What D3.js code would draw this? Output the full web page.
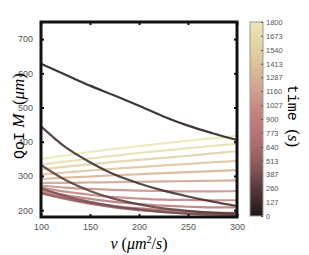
<!DOCTYPE html>
<html>
<head>
<meta charset="utf-8">
<script src="https://cdn.jsdelivr.net/npm/d3@7"></script>
<style>
  body { margin: 0; background: #fff; }
  svg { display: block; }
  .tick text { font-family: "Liberation Sans", Arial, sans-serif; fill: #555; }
</style>
</head>
<body>
<div class="canvas"></div>
<script>
// data
const nu = [100, 125, 150, 175, 200, 225, 250, 275, 300];
const times = [0, 127, 260, 387, 513, 640, 773, 900, 1027, 1160, 1287, 1413, 1540, 1673, 1800];
const qoi = [
  [628, 596, 564, 535, 505, 474, 447, 425, 405],
  [445, 384, 340, 304, 278, 257, 240, 225, 212],
  [332, 288, 256, 233, 217, 205, 198, 193, 190],
  [264, 241, 224, 211, 202, 195, 190, 187, 185],
  [250, 233, 219, 208, 200, 194, 190, 188, 187],
  [252, 236, 222, 212, 205, 200, 196, 193, 192],
  [258, 244, 233, 224, 218, 213, 210, 208, 208],
  [266, 254, 245, 238, 234, 231, 230, 229, 229],
  [272, 266, 262, 259, 257, 256, 255, 255, 256],
  [280, 280, 281, 282, 283, 284, 285, 286, 287],
  [291, 295, 298, 302, 305, 308, 311, 314, 317],
  [304, 310, 316, 321, 326, 331, 335, 340, 344],
  [319, 327, 334, 341, 347, 353, 359, 366, 372],
  [333, 342, 351, 359, 367, 374, 381, 388, 394],
  [349, 360, 370, 379, 387, 395, 403, 410, 417]
];
const xTicks = [100, 150, 200, 250, 300];
const yTicks = [200, 300, 400, 500, 600, 700];
const cbarTicks = [0, 127, 260, 387, 513, 640, 773, 900, 1027, 1160, 1287, 1413, 1540, 1673, 1800];
const cmapStops = [0, 127, 260, 387, 513, 640, 773, 900, 1027, 1160, 1287, 1413, 1540, 1673, 1800];
const cmapColors = ["#201414", "#3c2828", "#583a3a", "#784d4d", "#935e5e", "#a96a6a", "#b87474", "#c27c7c",
  "#c88c84", "#cfa08c", "#d6b292", "#dcc29a", "#e1d0a2", "#e6dcaa", "#ebe6b4"];

// dimensions
const w = 309, h = 255;
const margin = { top: 22, left: 41 };
const pw = 196, ph = 195;

const svg = d3.select(".canvas").append("svg").attr("width", w).attr("height", h);

const x = d3.scaleLinear().domain([100, 300]).range([margin.left, margin.left + pw]);
const y = d3.scaleLinear().domain([180, 750]).range([margin.top + ph, margin.top]);
const color = d3.scaleLinear().domain(cmapStops).range(cmapColors);

// lines (latest time drawn first so early times sit on top)
const line = d3.line().x((d, i) => x(nu[i])).y(d => y(d)).curve(d3.curveMonotoneX);
const plot = svg.append("g");
plot.selectAll("path")
  .data(qoi.map((v, i) => ({ v, t: times[i] })).reverse())
  .enter()
  .append("path")
  .attr("d", d => line(d.v))
  .attr("fill", "none")
  .attr("stroke", d => color(d.t))
  .attr("stroke-opacity", 0.85)
  .attr("stroke-width", 2.2);

// axes
svg.append("g")
  .attr("transform", `translate(0, ${margin.top + ph})`)
  .call(d3.axisBottom(x).tickValues(xTicks).tickSize(-3).tickPadding(7));
svg.append("g")
  .attr("transform", `translate(${margin.left}, 0)`)
  .call(d3.axisLeft(y).tickValues(yTicks).tickSize(-3).tickPadding(8));
svg.append("g")
  .attr("transform", `translate(0, ${margin.top})`)
  .call(d3.axisTop(x).tickValues(xTicks).tickSize(-3).tickFormat(""));
svg.append("g")
  .attr("transform", `translate(${margin.left + pw}, 0)`)
  .call(d3.axisRight(y).tickValues(yTicks).tickSize(-3).tickFormat(""));
svg.selectAll(".domain").remove();
svg.selectAll(".tick line").attr("stroke", "#111").attr("stroke-width", 2);
svg.selectAll(".tick text").attr("font-size", 9);

// frame
svg.append("rect")
  .attr("x", margin.left).attr("y", margin.top)
  .attr("width", pw).attr("height", ph)
  .attr("fill", "none").attr("stroke", "#111").attr("stroke-width", 3);

// axis labels
svg.append("text")
  .attr("x", margin.left + pw / 2).attr("y", 249)
  .attr("text-anchor", "middle")
  .attr("font-family", "Liberation Serif, serif")
  .attr("font-size", 16)
  .html('<tspan font-style="italic">ν</tspan> (<tspan font-style="italic">μm</tspan><tspan dy="-6" font-size="10">2</tspan><tspan dy="6">/</tspan><tspan font-style="italic">s</tspan>)');

svg.append("text")
  .attr("transform", `translate(24, 116) rotate(-90)`)
  .attr("text-anchor", "middle")
  .attr("font-size", 17)
  .attr("font-family", "Liberation Serif, serif")
  .html('<tspan font-family="Liberation Mono, monospace" font-size="15">QoI</tspan>&#160;<tspan font-style="italic">M</tspan>&#160;&#160;(<tspan font-style="italic">μm</tspan>)');

// colorbar
const cb = { x: 250, w: 13, top: 22, bottom: 216 };
const cy = d3.scaleLinear().domain([0, 1800]).range([cb.bottom, cb.top]);
const defs = svg.append("defs");
const grad = defs.append("linearGradient").attr("id", "cbar")
  .attr("x1", 0).attr("y1", 1).attr("x2", 0).attr("y2", 0);
grad.selectAll("stop")
  .data(cmapStops)
  .enter()
  .append("stop")
  .attr("offset", d => d / 1800)
  .attr("stop-color", d => color(d));
svg.append("rect")
  .attr("x", cb.x).attr("y", cb.top)
  .attr("width", cb.w).attr("height", cb.bottom - cb.top)
  .attr("fill", "url(#cbar)")
  .attr("stroke", "#999").attr("stroke-width", 1);
const cAxis = svg.append("g")
  .attr("transform", `translate(${cb.x + cb.w}, 0)`)
  .call(d3.axisRight(cy).tickValues(cbarTicks).tickSize(-2).tickPadding(3).tickFormat(d => d));
cAxis.select(".domain").remove();
cAxis.selectAll(".tick line").attr("stroke", "#555").attr("stroke-width", 1);
cAxis.selectAll(".tick text").attr("font-size", 7.5);

svg.append("text")
  .attr("transform", `translate(288, 116) rotate(90)`)
  .attr("text-anchor", "middle")
  .attr("font-size", 17)
  .attr("font-family", "Liberation Serif, serif")
  .html('<tspan font-family="Liberation Mono, monospace" font-size="15">time</tspan>&#160;&#160;(<tspan font-style="italic">s</tspan>)');
</script>
</body>
</html>
